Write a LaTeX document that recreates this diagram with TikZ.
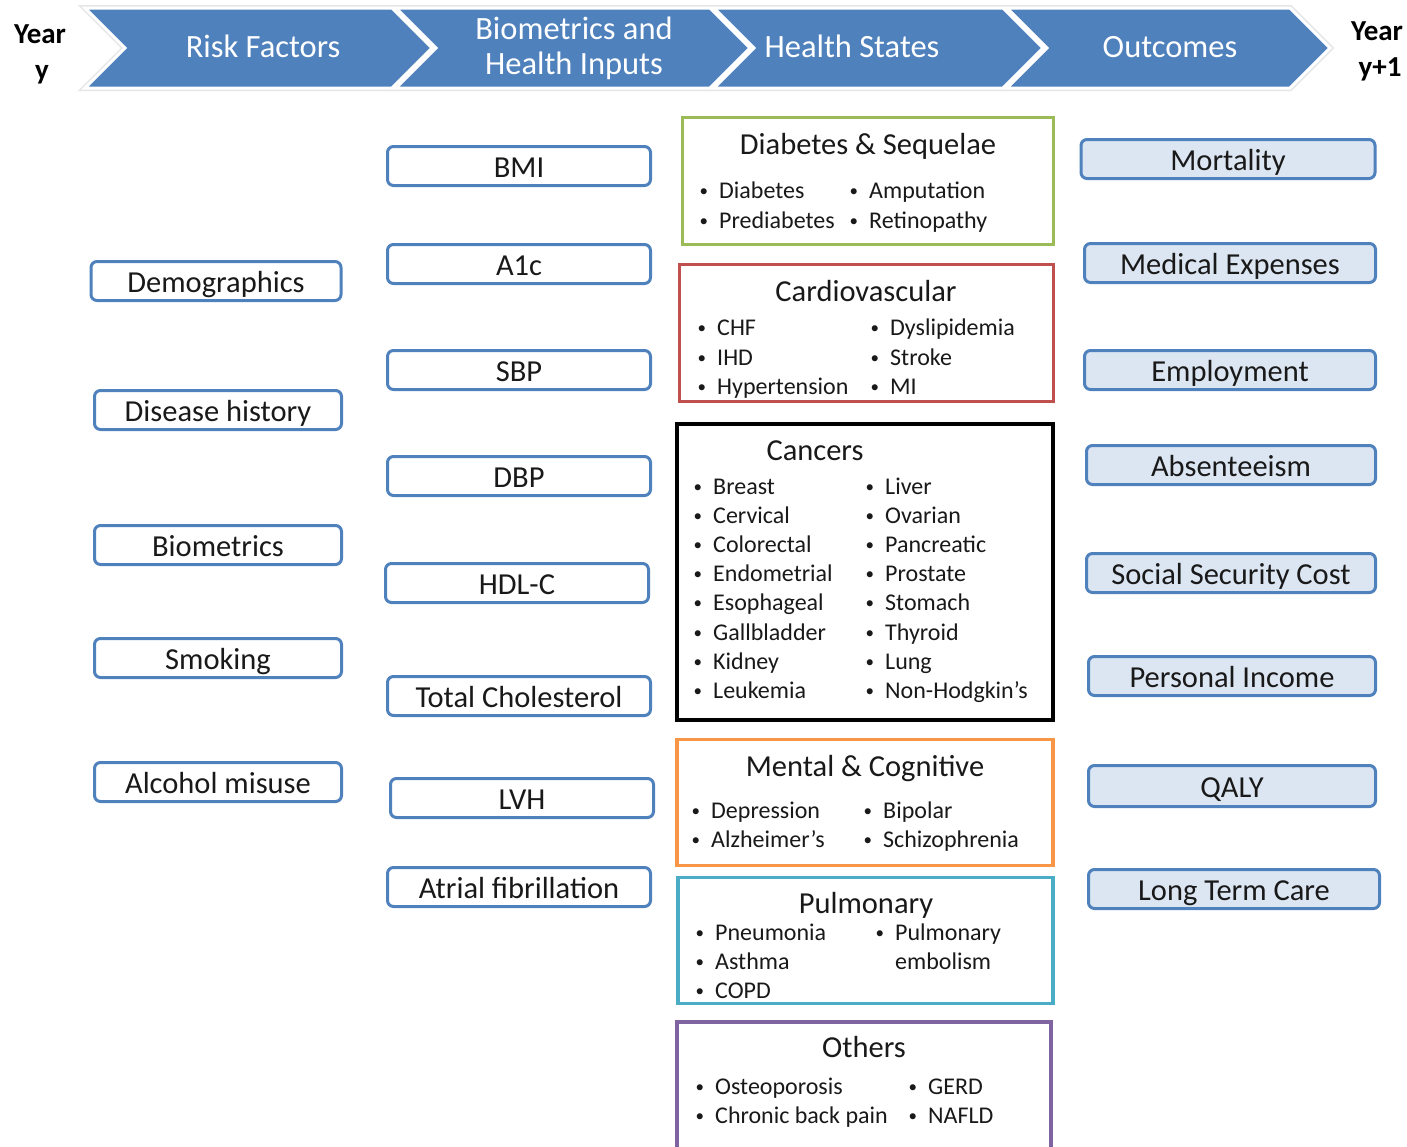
\documentclass[tikz,border=0pt]{standalone}
\usepackage{fontspec}
\setmainfont{Carlito}
\definecolor{hdr}{HTML}{4F81BD}
\definecolor{bord}{HTML}{4F81BD}
\definecolor{ofill}{HTML}{DCE6F2}
\definecolor{cgreen}{HTML}{9BBB59}
\definecolor{cred}{HTML}{C0504D}
\definecolor{corange}{HTML}{F79646}
\definecolor{cteal}{HTML}{4BACC6}
\definecolor{cpurple}{HTML}{8064A2}
\definecolor{shad}{HTML}{E6E6E6}
\newcommand{\chev}[3]{%
  \draw[draw=shad, line width=6pt, line join=miter] (#2,8) -- (#3,8) -- ({#3+40},48) -- (#3,88) -- (#2,88) -- ({#2+40},48) -- cycle;
  \coordinate (#1) at ({(#2+#3+40)/2},48);}
\newcommand{\chevf}[2]{%
  \filldraw[fill=hdr, draw=white, line width=3pt, line join=miter] (#1,8) -- (#2,8) -- ({#2+40},48) -- (#2,88) -- (#1,88) -- ({#1+40},48) -- cycle;}
\newcommand{\smbul}{\llap{\raisebox{1.5pt}{\fontsize{17}{17}\selectfont •}\hspace{11pt}}}
\newcommand{\bi}[4]{\node[itm] (#1) at (#2,{#3+8}) {\smbul#4};}
\newcommand{\nbi}[4]{\node[itm] (#1) at (#2,{#3+8}) {#4};}
\begin{document}
\begin{tikzpicture}[x=1pt,y=-1pt,
  rbox/.style={draw=bord, line width=3pt, rounded corners=6pt, fill=white, minimum height=39pt, inner sep=0pt, font=\fontsize{30.5}{30}\selectfont, text height=23pt, text depth=0pt, text=black!90},
  obox/.style={rbox, fill=ofill},
  cbox/.style={line width=3.5pt, fill=white, inner sep=0pt},
  ttl/.style={anchor=base, inner sep=0pt, font=\fontsize{30.5}{30}\selectfont, text=black!90},
  itm/.style={anchor=base west, inner sep=0pt, font=\fontsize{24}{24}\selectfont, text=black!90},
  hdrt/.style={anchor=base, text=white, font=\fontsize{32.5}{32}\selectfont, inner sep=0pt},
  yr/.style={anchor=base, font=\fontsize{29}{29}\selectfont\bfseries, inner sep=0pt}
]
\useasboundingbox (0,0) rectangle (1407,1146);
\fill[white] (0,0) rectangle (1407,1146);
% header chevrons
\chev{h1}{85}{392}
\chev{h2}{396}{710}
\chev{h3}{714}{1003}
\chev{h4}{1007}{1290}
\chevf{85}{392}
\chevf{396}{710}
\chevf{714}{1003}
\chevf{1007}{1290}
\node[hdrt] (t1) at (263,57) {Risk Factors};
\node[hdrt] (t2a) at (574,39) {Biometrics and};
\node[hdrt] (t2b) at (574,74) {Health Inputs};
\node[hdrt] (t3) at (852,57) {Health States};
\node[hdrt] (t4) at (1170,57) {Outcomes};
\node[yr] (y1a) at (40,43) {Year};
\node[yr] (y1b) at (42,79) {y};
\node[yr] (y2a) at (1377,40) {Year};
\node[yr] (y2b) at (1380,76) {y+1};
% risk factors
\node[rbox, minimum width=250pt] (demo) at (216,281) {Demographics};
\node[rbox, minimum width=247pt] (dis) at (218,410) {Disease history};
\node[rbox, minimum width=247pt] (bio) at (218,545) {Biometrics};
\node[rbox, minimum width=247pt] (smk) at (218,658) {Smoking};
\node[rbox, minimum width=247pt] (alc) at (218,782) {Alcohol misuse};
% biometrics
\node[rbox, minimum width=263pt] (bmi) at (519,166) {BMI};
\node[rbox, minimum width=263pt] (a1c) at (519,264) {A1c};
\node[rbox, minimum width=263pt] (sbp) at (519,370) {SBP};
\node[rbox, minimum width=263pt] (dbp) at (519,476) {DBP};
\node[rbox, minimum width=263pt] (hdl) at (517,583) {HDL-C};
\node[rbox, minimum width=263pt] (tc) at (519,696) {Total Cholesterol};
\node[rbox, minimum width=263pt] (lvh) at (522,798) {LVH};
\node[rbox, minimum width=263pt] (af) at (519,887) {Atrial fibrillation};
% outcomes
\node[obox, minimum width=294pt] (mort) at (1228,159) {Mortality};
\node[obox, minimum width=291pt] (med) at (1230,263) {Medical Expenses};
\node[obox, minimum width=291pt] (emp) at (1230,370) {Employment};
\node[obox, minimum width=289pt] (abs) at (1231,465) {Absenteeism};
\node[obox, minimum width=289pt] (ssc) at (1231,573) {Social Security Cost};
\node[obox, minimum width=287pt] (pinc) at (1232,676) {Personal Income};
\node[obox, minimum width=287pt, minimum height=41pt] (qaly) at (1232,786) {QALY};
\node[obox, minimum width=291pt] (ltc) at (1234,889) {Long Term Care};
% health states
\node[cbox, draw=cgreen, minimum width=371pt, minimum height=127pt] (diab) at (868,181) {};
\node[ttl] (diabt) at (868,154) {Diabetes \& Sequelae};
\bi{d1}{719}{190}{Diabetes}
\bi{d2}{719}{220}{Prediabetes}
\bi{d3}{869}{190}{Amputation}
\bi{d4}{869}{220}{Retinopathy}

\node[cbox, draw=cred, minimum width=374pt, minimum height=137pt] (cv) at (866.5,333) {};
\node[ttl] (cvt) at (866,301) {Cardiovascular};
\bi{c1}{717}{327}{CHF}
\bi{c2}{717}{357}{IHD}
\bi{c3}{717}{386}{Hypertension}
\bi{c4}{890}{327}{Dyslipidemia}
\bi{c5}{890}{357}{Stroke}
\bi{c6}{890}{386}{MI}

\node[cbox, draw=black, line width=4pt, minimum width=376pt, minimum height=296pt] (can) at (865,572) {};
\node[ttl] (cant) at (815,460) {Cancers};
\bi{k1}{713}{486}{Breast}
\bi{k2}{713}{515}{Cervical}
\bi{k3}{713}{544}{Colorectal}
\bi{k4}{713}{573}{Endometrial}
\bi{k5}{713}{602}{Esophageal}
\bi{k6}{713}{632}{Gallbladder}
\bi{k7}{713}{661}{Kidney}
\bi{k8}{713}{690}{Leukemia}
\bi{k9}{885}{486}{Liver}
\bi{k10}{885}{515}{Ovarian}
\bi{k11}{885}{544}{Pancreatic}
\bi{k12}{885}{573}{Prostate}
\bi{k13}{885}{602}{Stomach}
\bi{k14}{885}{632}{Thyroid}
\bi{k15}{885}{661}{Lung}
\bi{k16}{885}{690}{Non-Hodgkin's}

\node[cbox, draw=corange, minimum width=376pt, minimum height=126pt] (men) at (865,802.5) {};
\node[ttl] (ment) at (865,776) {Mental \& Cognitive};
\bi{m1}{711}{810}{Depression}
\bi{m2}{711}{839}{Alzheimer’s}
\bi{m3}{883}{810}{Bipolar}
\bi{m4}{883}{839}{Schizophrenia}

\node[cbox, draw=cteal, minimum width=375pt, minimum height=126pt] (pul) at (865.5,940.5) {};
\node[ttl] (pult) at (866,913) {Pulmonary};
\bi{p1}{715}{932}{Pneumonia}
\bi{p2}{715}{961}{Asthma}
\bi{p3}{715}{990}{COPD}
\bi{p4}{895}{932}{Pulmonary}
\nbi{p5}{895}{961}{embolism}

\node[cbox, draw=cpurple, minimum width=374pt, minimum height=136pt] (oth) at (864,1090) {};
\node[ttl] (otht) at (864,1057) {Others};
\bi{o1}{715}{1086}{Osteoporosis}
\bi{o2}{715}{1115}{Chronic back pain}
\bi{o3}{928}{1086}{GERD}
\bi{o4}{928}{1115}{NAFLD}
\end{tikzpicture}
\end{document}
